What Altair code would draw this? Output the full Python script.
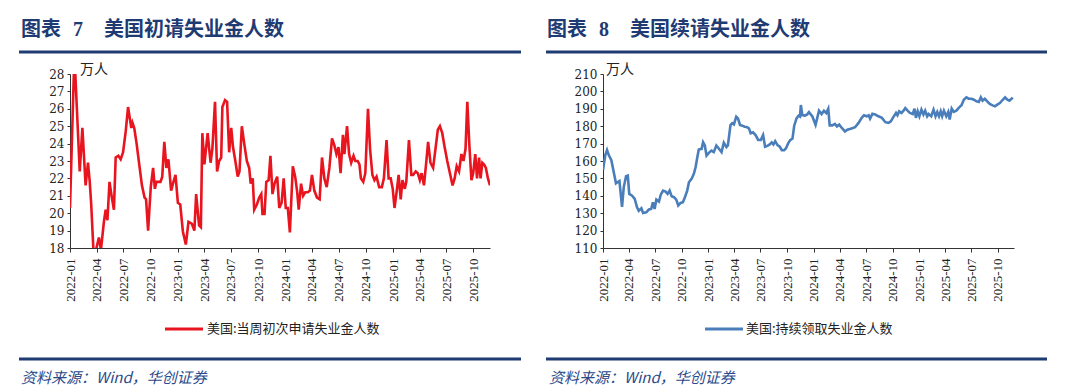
import altair as alt
import pandas as pd

# ---------------- data ----------------
init_dates = [
    "2022-01-01", "2022-01-14", "2022-01-19", "2022-02-03", "2022-02-12", "2022-02-23",
    "2022-03-03", "2022-03-09", "2022-03-14", "2022-03-22", "2022-03-29", "2022-04-09",
    "2022-04-16", "2022-04-26", "2022-05-02", "2022-05-08", "2022-05-15", "2022-05-22",
    "2022-05-30", "2022-06-05", "2022-06-14", "2022-06-22", "2022-06-30", "2022-07-09",
    "2022-07-17", "2022-07-28", "2022-08-01", "2022-08-07", "2022-08-15", "2022-08-24",
    "2022-09-02", "2022-09-11", "2022-09-16", "2022-09-23", "2022-10-02", "2022-10-10",
    "2022-10-16", "2022-10-21", "2022-10-28", "2022-11-04", "2022-11-10", "2022-11-17",
    "2022-11-24", "2022-12-01", "2022-12-10", "2022-12-18", "2022-12-25",
    "2023-01-02", "2023-01-10", "2023-01-19", "2023-01-29", "2023-02-07", "2023-02-18",
    "2023-02-27", "2023-03-05", "2023-03-15", "2023-03-21", "2023-03-26", "2023-04-02",
    "2023-04-13", "2023-04-23", "2023-04-29", "2023-05-08", "2023-05-15", "2023-05-22",
    "2023-05-29", "2023-06-02", "2023-06-11", "2023-06-18", "2023-06-25", "2023-07-02",
    "2023-07-08", "2023-07-16", "2023-07-24", "2023-07-30", "2023-08-07", "2023-08-16",
    "2023-08-24", "2023-09-01", "2023-09-06", "2023-09-13", "2023-09-18", "2023-09-27",
    "2023-10-05", "2023-10-12", "2023-10-16", "2023-10-23", "2023-10-29", "2023-11-06",
    "2023-11-12", "2023-11-19", "2023-11-26", "2023-12-05", "2023-12-12", "2023-12-20",
    "2023-12-27",
    "2024-01-03", "2024-01-10", "2024-01-17", "2024-01-27", "2024-02-04", "2024-02-11",
    "2024-02-16", "2024-02-24", "2024-03-02", "2024-03-09", "2024-03-18", "2024-03-25",
    "2024-04-01", "2024-04-09", "2024-04-18", "2024-04-27", "2024-05-05", "2024-05-13",
    "2024-05-21", "2024-05-30", "2024-06-08", "2024-06-16", "2024-06-23", "2024-06-30",
    "2024-07-07", "2024-07-15", "2024-07-20", "2024-07-29", "2024-08-05", "2024-08-12",
    "2024-08-20", "2024-08-26", "2024-09-03", "2024-09-09", "2024-09-14", "2024-09-22",
    "2024-09-29", "2024-10-08", "2024-10-15", "2024-10-23", "2024-10-30", "2024-11-06",
    "2024-11-15", "2024-11-24", "2024-12-01", "2024-12-10", "2024-12-17", "2024-12-24",
    "2024-12-31",
    "2025-01-06", "2025-01-13", "2025-01-20", "2025-01-27", "2025-02-02", "2025-02-10",
    "2025-02-15", "2025-02-24", "2025-03-04", "2025-03-10", "2025-03-19", "2025-03-26",
    "2025-04-02", "2025-04-08", "2025-04-16", "2025-04-23", "2025-04-30", "2025-05-08",
    "2025-05-17", "2025-05-25", "2025-06-02", "2025-06-09", "2025-06-17", "2025-06-25",
    "2025-07-04", "2025-07-13", "2025-07-22", "2025-07-29", "2025-08-05", "2025-08-13",
    "2025-08-21", "2025-08-28", "2025-09-04", "2025-09-10", "2025-09-17", "2025-09-24",
    "2025-09-30", "2025-10-07", "2025-10-13", "2025-10-20", "2025-10-25", "2025-10-31",
    "2025-11-06", "2025-11-12", "2025-11-19", "2025-11-26",
]
init_values = [
    20.3, 28.0, 28.0, 22.4, 24.9, 21.6,
    22.9, 21.8, 20.5, 17.7, 17.8, 18.6,
    17.9, 19.5, 20.2, 19.6, 21.8, 21.0,
    20.2, 23.2, 23.3, 23.1, 23.5, 24.7,
    26.1, 24.9, 25.2, 24.9, 24.0, 22.8,
    21.6, 20.9, 20.8, 19.0, 21.5, 22.6,
    21.4, 21.8, 21.8, 21.8, 22.1, 24.1,
    22.6, 23.1, 21.3, 21.8, 22.2,
    20.6, 20.5, 18.95, 18.2, 19.5, 19.4,
    19.0, 21.1, 19.3, 19.2, 24.6, 22.8,
    24.6, 22.9, 23.7, 26.4, 22.4, 23.0,
    23.2, 26.1, 26.5, 26.4, 23.5, 24.9,
    23.8, 23.0, 22.1, 22.4, 25.0, 23.9,
    23.0, 22.6, 21.7, 22.0, 20.2, 20.5,
    20.9, 21.1, 19.95, 19.95, 21.8, 21.9,
    23.3, 21.1, 21.7, 22.1, 20.3, 20.6,
    22.0,
    20.3, 20.3, 18.9, 22.7, 22.1, 21.2,
    20.2, 21.7, 21.0, 21.2, 21.2, 21.3,
    22.2, 21.3, 20.9, 20.8, 23.2, 22.0,
    21.5, 22.6, 24.3, 23.9, 23.4, 23.8,
    22.3, 24.5, 23.4, 25.0, 23.4, 22.9,
    23.3, 23.0, 23.0, 22.8, 22.0, 21.8,
    22.3, 26.0, 23.7, 22.2, 21.9, 22.1,
    21.5, 21.5, 22.0, 24.2, 22.0, 22.0,
    21.4,
    20.3, 21.2, 22.2, 20.8, 21.9, 21.4,
    21.8, 24.2, 22.2, 22.2, 22.4, 22.3,
    21.9, 22.3, 21.6, 22.8, 24.1, 22.9,
    22.6, 23.7, 24.8, 25.0, 24.6, 23.8,
    23.0, 22.3, 21.6, 22.0, 22.7, 22.4,
    23.4, 23.0, 23.7, 26.4, 23.9, 21.9,
    22.3, 23.4, 22.0, 23.2, 22.0, 22.9,
    22.8, 22.6, 22.0, 21.6,
]

cont_dates = [
    "2022-01-01", "2022-01-09", "2022-01-15", "2022-01-21", "2022-01-30", "2022-02-15",
    "2022-02-27", "2022-03-08", "2022-03-14", "2022-03-22", "2022-03-28", "2022-04-02",
    "2022-04-12", "2022-04-21", "2022-04-29", "2022-05-05", "2022-05-14", "2022-05-20",
    "2022-05-31", "2022-06-09", "2022-06-17", "2022-06-23", "2022-06-29", "2022-07-05",
    "2022-07-14", "2022-07-20", "2022-07-28", "2022-08-06", "2022-08-13", "2022-08-20",
    "2022-08-27", "2022-09-04", "2022-09-12", "2022-09-19", "2022-09-27", "2022-10-05",
    "2022-10-12", "2022-10-20", "2022-10-26", "2022-11-04", "2022-11-12", "2022-11-18",
    "2022-11-24", "2022-11-29", "2022-12-09", "2022-12-14", "2022-12-20", "2022-12-26",
    "2023-01-03", "2023-01-12", "2023-01-20", "2023-01-29", "2023-02-07", "2023-02-16",
    "2023-02-24", "2023-03-05", "2023-03-10", "2023-03-19", "2023-03-25", "2023-03-31",
    "2023-04-08", "2023-04-14", "2023-04-21", "2023-04-29", "2023-05-07", "2023-05-14",
    "2023-05-22", "2023-05-28", "2023-06-05", "2023-06-14", "2023-06-23", "2023-07-02",
    "2023-07-10", "2023-07-17", "2023-07-25", "2023-08-02", "2023-08-09", "2023-08-15",
    "2023-08-21", "2023-08-29", "2023-09-06", "2023-09-13", "2023-09-21", "2023-09-27",
    "2023-10-05", "2023-10-12", "2023-10-20", "2023-10-26", "2023-11-03", "2023-11-10",
    "2023-11-15", "2023-11-18", "2023-11-23", "2023-12-02", "2023-12-10", "2023-12-16",
    "2023-12-28",
    "2024-01-08", "2024-01-20", "2024-01-29", "2024-02-06", "2024-02-14", "2024-02-21",
    "2024-02-26", "2024-03-06", "2024-03-15", "2024-03-22", "2024-03-30", "2024-04-08",
    "2024-04-19", "2024-04-27", "2024-05-09", "2024-05-24", "2024-06-05", "2024-06-16",
    "2024-06-24", "2024-07-03", "2024-07-10", "2024-07-15", "2024-07-23", "2024-08-02",
    "2024-08-13", "2024-08-25", "2024-09-06", "2024-09-17", "2024-09-25", "2024-10-03",
    "2024-10-13", "2024-10-18", "2024-10-24", "2024-11-01", "2024-11-08", "2024-11-14",
    "2024-11-22", "2024-11-30", "2024-12-10", "2024-12-16", "2024-12-21", "2024-12-27",
    "2025-01-02", "2025-01-09", "2025-01-16", "2025-01-22", "2025-01-29", "2025-02-03",
    "2025-02-12", "2025-02-20", "2025-02-27", "2025-03-05", "2025-03-11", "2025-03-17",
    "2025-03-22", "2025-03-28", "2025-04-05", "2025-04-12", "2025-04-17", "2025-04-24",
    "2025-05-01", "2025-05-10", "2025-05-20", "2025-05-28", "2025-06-05", "2025-06-14",
    "2025-06-22", "2025-07-02", "2025-07-10", "2025-07-19", "2025-07-27", "2025-08-03",
    "2025-08-09", "2025-08-17", "2025-08-25", "2025-09-03", "2025-09-13", "2025-09-21",
    "2025-09-29", "2025-10-08", "2025-10-18", "2025-10-26", "2025-11-03", "2025-11-10",
    "2025-11-18", "2025-11-21",
]
cont_values = [
    154.8, 163.4, 166.3, 163.4, 160.5, 147.2,
    148.5, 133.7, 145.0, 151.2, 151.6, 141.1,
    140.1, 138.2, 133.4, 131.4, 132.8, 130.1,
    130.5, 132.1, 132.4, 136.3, 132.4, 137.8,
    136.7, 140.5, 143.0, 142.4, 141.1, 143.0,
    139.7, 139.2, 137.8, 134.4, 135.9, 136.3,
    139.2, 143.0, 147.8, 149.7, 152.6, 156.4,
    162.2, 166.6, 167.0, 170.8, 168.9, 163.1,
    164.7, 166.0, 165.1, 168.9, 167.0, 165.1,
    170.5, 168.0, 168.9, 180.7, 181.7, 181.0,
    185.5, 184.5, 180.7, 180.3, 179.7, 179.5,
    178.8, 175.9, 176.5, 174.9, 172.1, 172.1,
    174.9, 168.2, 168.7, 169.5, 170.7, 169.5,
    171.4, 169.1, 168.2, 166.2, 166.2, 167.2,
    170.1, 172.0, 172.9, 180.3, 184.5, 186.0,
    185.5, 192.2, 186.4, 186.1, 186.8, 188.1,
    185.6,
    180.8, 188.9, 187.0, 188.9, 187.6, 190.1,
    180.5, 180.5, 181.3, 179.9, 180.9, 179.0,
    177.0, 178.0, 178.6, 179.4, 181.9, 184.8,
    186.3, 185.7, 186.3, 184.4, 187.1, 186.7,
    185.7, 184.8, 182.3, 181.9, 182.8, 185.1,
    187.6, 186.3, 188.6, 187.6, 188.9, 190.4,
    188.9, 187.6, 187.0, 190.1, 184.8, 188.6,
    185.7, 189.5, 186.7, 188.9, 185.7, 187.0,
    185.7, 189.5, 185.7, 188.2, 185.7, 188.6,
    185.7, 188.9, 185.7, 188.2, 183.8, 190.1,
    188.2, 188.9, 190.8, 192.0, 195.2, 196.6,
    195.8, 195.8, 195.2, 194.3, 193.9, 196.6,
    194.7, 195.8, 194.3, 192.8, 192.0, 191.4,
    192.4, 193.3, 195.2, 196.6, 195.2, 194.7,
    195.8, 196.6,
]

tick_months = ["2022-01", "2022-04", "2022-07", "2022-10", "2023-01", "2023-04",
               "2023-07", "2023-10", "2024-01", "2024-04", "2024-07", "2024-10",
               "2025-01", "2025-04", "2025-07", "2025-10"]
init_ticks = [18, 19, 20, 21, 22, 23, 24, 25, 26, 27, 28]
cont_ticks = [110, 120, 130, 140, 150, 160, 170, 180, 190, 200, 210]

RED = "#E8141E"
BLUE = "#4A7EBB"
NAVY = "#1F3B73"
SRC = "#2B4A8B"
CJK = "Noto Sans CJK SC"
AXIS_C = "#333333"

tick_values = [alt.DateTime(year=int(m[:4]), month=int(m[5:]), date=1) for m in tick_months]
x_domain = [alt.DateTime(year=2022, month=1, date=1), alt.DateTime(year=2025, month=11, date=26)]


def one():
    return alt.Data(values=[{"k": 1}])


def ann_text(text, x, y, size, color="#000000", font=CJK, weight="normal", style="normal"):
    return alt.Chart(one()).mark_text(
        text=text, align="left", baseline="middle", fontSize=size, color=color,
        font=font, fontWeight=weight, fontStyle=style,
    ).encode(x=alt.value(x), y=alt.value(y))


def ann_rule(x1, x2, y, color, width):
    return alt.Chart(one()).mark_rule(color=color, strokeWidth=width, strokeCap="butt").encode(
        x=alt.value(x1), x2=alt.value(x2), y=alt.value(y)
    )


def panel(dates, values, color, ydom, yticks, w, h, num, title, legend, off):
    df = pd.DataFrame({"date": pd.to_datetime(dates), "value": values})
    line = alt.Chart(df).mark_line(color=color, strokeWidth=2.6, clip=True).encode(
        x=alt.X("date:T", scale=alt.Scale(domain=x_domain),
                axis=alt.Axis(title=None, values=tick_values, format="%Y-%m", labelAngle=270,
                              labelFont="Liberation Serif", labelFontSize=13, labelColor="#222222",
                              domainColor=AXIS_C, tickColor=AXIS_C, tickSize=4, labelPadding=6,
                              grid=False, labelOverlap=False)),
        y=alt.Y("value:Q", scale=alt.Scale(domain=ydom, nice=False, zero=False),
                axis=alt.Axis(title=None, values=yticks, labelFont="DejaVu Serif", labelFontSize=12,
                              labelColor="#222222", domainColor=AXIS_C, tickColor=AXIS_C, tickSize=3,
                              labelPadding=3, grid=False)),
    ).properties(width=w, height=h)
    layers = [
        line,
        ann_text("图表", off["tx"], -44, 20, NAVY, CJK, "bold"),
        ann_text(num, off["nx"], -44, 20, NAVY, "Liberation Serif", "bold"),
        ann_text(title, off["mx"], -44, 20, NAVY, CJK, "bold"),
        ann_rule(off["r1"], off["r2"], -22, NAVY, 3),
        ann_text("万人", off["ux"], -4, 14, "#222222", CJK),
        ann_rule(off["l1"], off["l2"], 255, color, 3),
        ann_text(legend, off["lt"], 255, 13, "#222222", CJK),
        ann_rule(off["r1"], off["r2"], 285, NAVY, 3),
        ann_text("资料来源：Wind，华创证券", off["sx"], 304, 15, SRC, CJK, "normal", "italic"),
    ]
    return alt.layer(*layers)


left = panel(init_dates, init_values, RED, [18, 28], init_ticks, 420, 174, "7",
             "美国初请失业金人数", "美国:当周初次申请失业金人数",
             dict(tx=-49, nx=3, mx=34, r1=-51, r2=451, ux=10, l1=95, l2=133, lt=137, sx=-49))
right = panel(cont_dates, cont_values, BLUE, [110, 210], cont_ticks, 411, 174, "8",
              "美国续请失业金人数", "美国:持续领取失业金人数",
              dict(tx=-56, nx=-4, mx=27, r1=-57, r2=444, ux=3, l1=102, l2=140, lt=143, sx=-54))

chart = alt.hconcat(left, right, spacing=113, bounds="flush").properties(
    padding={"left": 9, "top": 12, "right": 5, "bottom": 2}
).configure_view(stroke=None)

chart.save("out.html", embed_options={"renderer": "svg", "actions": False})
